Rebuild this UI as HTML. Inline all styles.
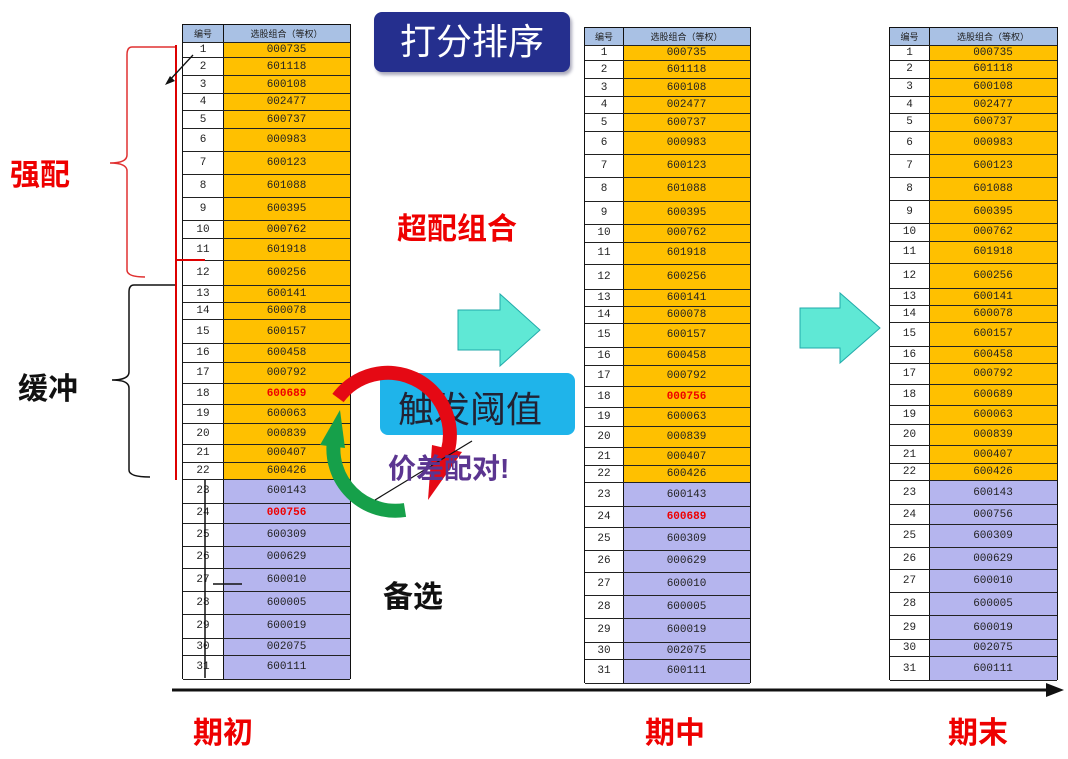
<!DOCTYPE html>
<html><head><meta charset="utf-8">
<style>
body{margin:0;width:1068px;height:759px;background:#fff;position:relative;overflow:hidden;font-family:"Liberation Sans","Noto Sans CJK SC",sans-serif}
.t{position:absolute;border:1.5px solid #111;box-sizing:border-box}
.r{position:absolute;left:0;right:0;border-bottom:1.5px solid #222;box-sizing:border-box;font-family:"Liberation Mono",monospace;font-size:11px;color:#222}
.n{position:absolute;left:0;top:0;bottom:0;background:#fff;border-right:1.5px solid #111;text-align:center;display:flex;align-items:center;justify-content:center}
.v{position:absolute;top:0;bottom:0;right:0;display:flex;align-items:center;justify-content:center}
.lab{position:absolute;font-weight:bold;font-family:"Liberation Sans","Noto Sans CJK SC",sans-serif;white-space:nowrap}
</style></head><body>
<div id="root"></div>
<svg width="1068" height="759" style="position:absolute;left:0;top:0;z-index:5" xmlns="http://www.w3.org/2000/svg">
<path d="M175,47 L132,47 Q127,47 127,55 L127,155 Q127,163 110,163 Q127,163 127,171 L127,270 Q127,277 145,277" fill="none" stroke="#e03030" stroke-width="1.5"/>
<line x1="176" y1="45" x2="176" y2="480" stroke="#d00" stroke-width="2"/>
<line x1="176" y1="260" x2="205" y2="260" stroke="#d00" stroke-width="2"/>
<path d="M175,285 L134,285 Q129,285 129,292 L129,372 Q129,380 112,380 Q129,380 129,388 L129,470 Q129,477 150,477" fill="none" stroke="#111" stroke-width="1.5"/>
<line x1="205" y1="480" x2="205" y2="678" stroke="#111" stroke-width="1.5"/>
<line x1="213" y1="584" x2="242" y2="584" stroke="#111" stroke-width="1.5"/>
<line x1="193" y1="55" x2="168" y2="82" stroke="#111" stroke-width="1.3"/>
<path d="M165,85 L170,76 L175,81 Z" fill="#111"/>
<path d="M458,310 L500,310 L500,294 L540,330 L500,366 L500,350 L458,350 Z" fill="#5fe8d5" stroke="#2aa" stroke-width="1"/>
<path d="M800,308 L840,308 L840,293 L880,328 L840,363 L840,348 L800,348 Z" fill="#5fe8d5" stroke="#2aa" stroke-width="1"/>
<rect x="380" y="373" width="195" height="62" rx="8" fill="#1fb4ea"/>
<text x="398" y="422" font-size="36" fill="#223" font-family="Liberation Sans,Noto Sans CJK SC,sans-serif">触发阈值</text>
<path d="M338,398 A62,62 0 0 1 448,450" fill="none" stroke="#e50914" stroke-width="14"/>
<path d="M432,445 L462,452 L428,500 Z" fill="#e50914"/>
<path d="M405,510 A62,62 0 0 1 334,440" fill="none" stroke="#16a04a" stroke-width="14"/>
<path d="M320,445 L340,410 L345,448 Z" fill="#16a04a"/>
<line x1="472" y1="441" x2="375" y2="500" stroke="#111" stroke-width="1.2"/>
<text x="388" y="478" font-size="28" font-weight="bold" fill="#5b3590" font-family="Liberation Sans,Noto Sans CJK SC,sans-serif">价差配对!</text>
<line x1="172" y1="690" x2="1052" y2="690" stroke="#111" stroke-width="3"/>
<path d="M1064,690 L1046,683 L1046,697 Z" fill="#111"/>
</svg>
<div style="position:absolute;left:374px;top:12px;width:196px;height:60px;background:#252f8e;border-radius:8px;box-shadow:2px 3px 3px #aab;color:#fff;font-size:36px;line-height:60px;text-align:center;font-family:'Liberation Sans','Noto Sans CJK SC',sans-serif">打分排序</div>
<div class="lab" style="left:397px;top:204px;font-size:30px;color:#e00">超配组合</div>
<div class="lab" style="left:10px;top:150px;font-size:30px;color:#e00">强配</div>
<div class="lab" style="left:18px;top:364px;font-size:30px;color:#111">缓冲</div>
<div class="lab" style="left:383px;top:572px;font-size:30px;color:#111">备选</div>
<div class="lab" style="left:193px;top:708px;font-size:30px;color:#e00">期初</div>
<div class="lab" style="left:645px;top:708px;font-size:30px;color:#e00">期中</div>
<div class="lab" style="left:948px;top:708px;font-size:30px;color:#e00">期末</div>
<script>
var B=[24,42,57,75,93,110,128,151,174,197,220,238,260,285,302,319,343,361,382,403,422,443,461,478,502,522,545,567,590,613,637,654,678];
var D=["000735","601118","600108","002477","600737","000983","600123","601088","600395","000762","601918","600256","600141","600078","600157","600458","000792","600689","600063","000839","000407","600426","600143","000756","600309","000629","600010","600005","600019","002075","600111"];
function tbl(x,w,top,bot,nw,swap,red){
 var s=(bot-top)/(B[32]-B[0]);var h='';
 var Y=function(i){return (B[i]-B[0])*s;};
 h+='<div class="t" style="left:'+x+'px;top:'+top+'px;width:'+w+'px;height:'+(bot-top)+'px">';
 h+='<div class="r" style="top:0;height:'+Y(1)+'px;background:#a9c1e4;font-size:9px;font-family:\'Liberation Sans\',\'Noto Sans CJK SC\',sans-serif"><div class="n" style="width:'+nw+'px;background:#a9c1e4">编号</div><div class="v" style="left:'+nw+'px">选股组合（等权）</div></div>';
 for(var i=1;i<=31;i++){
  var v=D[i-1];var c='#222';var fw='normal';
  if(swap){if(i==18)v='000756';if(i==24)v='600689';}
  if(red&&(i==18||i==24)){c='#e00';fw='bold';}
  var bg=i<=22?'#ffc000':'#b5b5ee';
  h+='<div class="r" style="top:'+Y(i)+'px;height:'+(Y(i+1)-Y(i))+'px;background:'+bg+'"><div class="n" style="width:'+nw+'px">'+i+'</div><div class="v" style="left:'+nw+'px;color:'+c+';font-weight:'+fw+'">'+v+'</div></div>';
 }
 h+='</div>';return h;
}
document.getElementById('root').innerHTML=tbl(182,169,24,679,40,false,true)+tbl(584,167,27,683,38,true,true)+tbl(889,169,27,680,39,false,false);
</script>
</body></html>
